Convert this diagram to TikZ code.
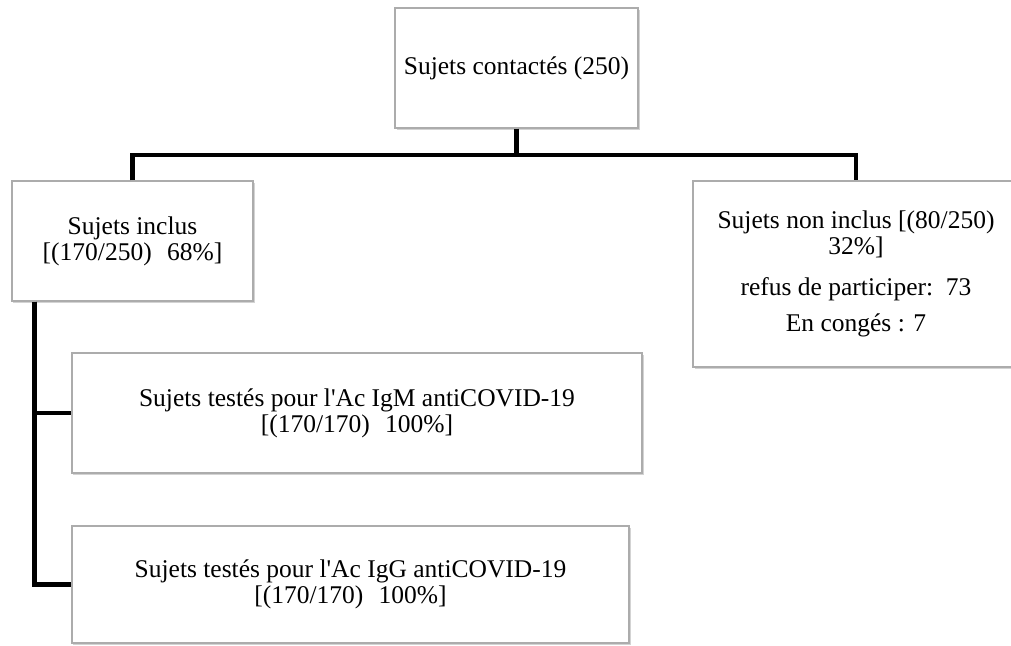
\documentclass[tikz,border=0pt]{standalone}
\usepackage{fontspec}
\setmainfont{Liberation Serif}
\usetikzlibrary{positioning, shadows}

\tikzset{
  box/.style={draw=gray!65, line width=1.2bp, fill=white, align=center, inner sep=0pt,
    drop shadow={shadow xshift=1.5bp, shadow yshift=-2bp, opacity=0.35}},
  link/.style={line width=4.5bp}
}

\begin{document}
\begin{tikzpicture}[x=1bp, y=-1bp, font=\fontsize{25.5bp}{26bp}\selectfont]
  \useasboundingbox (0,0) rectangle (1011,646);
  % Boxes
  \node[box, minimum width=243bp, minimum height=120bp] (contact) at (516.5,68) {Sujets contactés (250)};
  \node[box, minimum width=241bp, minimum height=120bp] (incl) at (132.5,241) {Sujets inclus\\{[}(170/250)\hspace{0.6em}68\%]};
  \node[box, minimum width=326bp, minimum height=186bp] (noninc) at (856,274)
    {Sujets non inclus [(80/250)\\32\%]\\[15bp]refus de participer:\ \ 73\\[10bp]En congés : 7};
  \node[box, minimum width=570bp, minimum height=120bp] (igm) at (357,413)
    {Sujets testés pour l\textquotesingle Ac IgM antiCOVID-19\\{[}(170/170)\hspace{0.6em}100\%]};
  \node[box, minimum width=557bp, minimum height=117bp] (igg) at (350.5,584.5)
    {Sujets testés pour l\textquotesingle Ac IgG\ antiCOVID-19\\{[}(170/170)\hspace{0.6em}100\%]};
  % Connectors
  \coordinate (split) at (516.5,155);
  \draw[link] (contact.south) -- (split);
  \draw[link] (incl.north) |- (split) -| (noninc.north);
  \coordinate (trunk) at ([xshift=23bp]incl.south west);
  \draw[link] (trunk) |- (igm.west);
  \draw[link] (trunk) |- (igg.west);
\end{tikzpicture}
\end{document}
